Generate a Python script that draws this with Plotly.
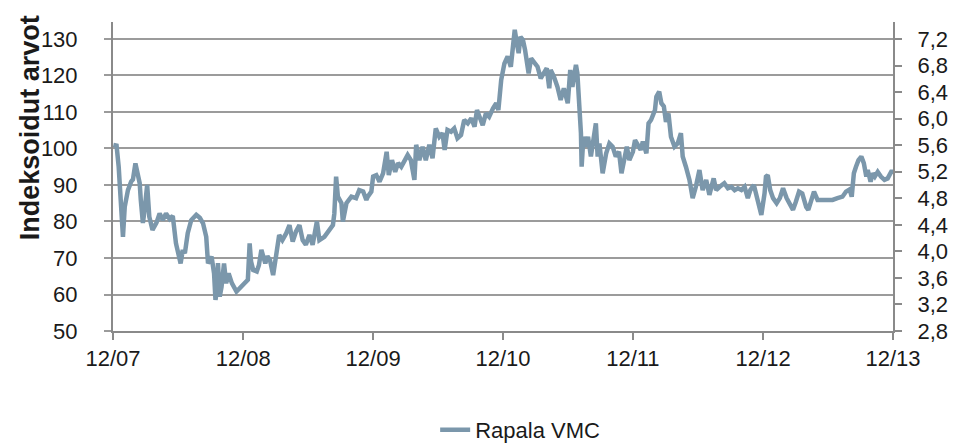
import plotly.graph_objects as go

# Rapala VMC, indexed (12/07 = 100)
dates = [
    "2007-12-02", "2007-12-06", "2007-12-11", "2007-12-17", "2007-12-22", "2007-12-26", "2007-12-29",
    "2008-01-03", "2008-01-12", "2008-01-21", "2008-01-26", "2008-02-02", "2008-02-05",
    "2008-02-09", "2008-02-14", "2008-02-17", "2008-02-23", "2008-02-28", "2008-03-06",
    "2008-03-12", "2008-03-21", "2008-04-01", "2008-04-10", "2008-04-19", "2008-04-28",
    "2008-05-08", "2008-05-17", "2008-05-26", "2008-06-02", "2008-06-08", "2008-06-14",
    "2008-06-20", "2008-06-28", "2008-07-08", "2008-07-22", "2008-08-01", "2008-08-10",
    "2008-08-19", "2008-08-24", "2008-09-03", "2008-09-10", "2008-09-14", "2008-09-19",
    "2008-09-21", "2008-09-26", "2008-10-01", "2008-10-08", "2008-10-14", "2008-10-21",
    "2008-10-30", "2008-11-12", "2008-11-26",
    "2008-12-05", "2008-12-09", "2008-12-14", "2008-12-19", "2008-12-23", "2008-12-29",
    "2009-01-08", "2009-01-14", "2009-01-21", "2009-02-01", "2009-02-07", "2009-02-14",
    "2009-02-23", "2009-03-03", "2009-03-12", "2009-03-21", "2009-04-01", "2009-04-10",
    "2009-04-19", "2009-04-28", "2009-05-08", "2009-05-17", "2009-05-26", "2009-06-05",
    "2009-06-14", "2009-06-26", "2009-07-03", "2009-07-17", "2009-08-01", "2009-08-10",
    "2009-08-14", "2009-08-19", "2009-08-24", "2009-09-03", "2009-09-07", "2009-09-17",
    "2009-10-01", "2009-10-14", "2009-10-23", "2009-11-03", "2009-11-12", "2009-11-16",
    "2009-11-26",
    "2009-12-01", "2009-12-10", "2009-12-19", "2009-12-29", "2010-01-08", "2010-01-14",
    "2010-01-23", "2010-02-01", "2010-02-09", "2010-02-18", "2010-02-27", "2010-03-08",
    "2010-03-17", "2010-03-27", "2010-04-01", "2010-04-10", "2010-04-19", "2010-04-28",
    "2010-05-08", "2010-05-17", "2010-05-26", "2010-06-05", "2010-06-14", "2010-06-20",
    "2010-06-28", "2010-07-08", "2010-07-17", "2010-07-26", "2010-08-05", "2010-08-14",
    "2010-08-24", "2010-09-03", "2010-09-12", "2010-09-19", "2010-09-26", "2010-10-05",
    "2010-10-14", "2010-10-23", "2010-11-03", "2010-11-12", "2010-11-18", "2010-11-26",
    "2010-12-05", "2010-12-14", "2010-12-23", "2010-12-29", "2011-01-03", "2011-01-09",
    "2011-01-14", "2011-01-19", "2011-01-26", "2011-02-01", "2011-02-05", "2011-02-11",
    "2011-02-18", "2011-02-27", "2011-03-08", "2011-03-17", "2011-03-27", "2011-04-03",
    "2011-04-10", "2011-04-14", "2011-04-23", "2011-05-03", "2011-05-12", "2011-05-21",
    "2011-06-01", "2011-06-08", "2011-06-14", "2011-06-24", "2011-06-28", "2011-07-03",
    "2011-07-08", "2011-07-10", "2011-07-15", "2011-07-22", "2011-07-28", "2011-08-05",
    "2011-08-13", "2011-08-19", "2011-08-24", "2011-08-29", "2011-09-07", "2011-09-17",
    "2011-09-26", "2011-10-05", "2011-10-14", "2011-10-23", "2011-10-30", "2011-11-07",
    "2011-11-14", "2011-11-21",
    "2011-12-01", "2011-12-07", "2011-12-14", "2011-12-23", "2011-12-29", "2012-01-08",
    "2012-01-14", "2012-01-21", "2012-02-01", "2012-02-05", "2012-02-13", "2012-02-19",
    "2012-02-26", "2012-03-03", "2012-03-10", "2012-03-17", "2012-03-27", "2012-04-05",
    "2012-04-14", "2012-04-19", "2012-04-28", "2012-05-08", "2012-05-17", "2012-05-26",
    "2012-06-05", "2012-06-14", "2012-06-24", "2012-07-03", "2012-07-15", "2012-07-22",
    "2012-08-01", "2012-08-14", "2012-08-24", "2012-09-03", "2012-09-12", "2012-09-21",
    "2012-10-01", "2012-10-10", "2012-10-19", "2012-10-26", "2012-11-05", "2012-11-12",
    "2012-11-19", "2012-11-26",
    "2012-12-05", "2012-12-09", "2012-12-14", "2012-12-21", "2012-12-29", "2013-01-08",
    "2013-01-17", "2013-01-26", "2013-02-05", "2013-02-14", "2013-02-23", "2013-03-03",
    "2013-03-12", "2013-03-21", "2013-04-01", "2013-04-07", "2013-04-14", "2013-04-23",
    "2013-05-03", "2013-05-17", "2013-06-01", "2013-06-14", "2013-06-28", "2013-07-12",
    "2013-07-22", "2013-08-01", "2013-08-07", "2013-08-13", "2013-08-19", "2013-08-26",
    "2013-09-03", "2013-09-10", "2013-09-17", "2013-09-21", "2013-09-29", "2013-10-05",
    "2013-10-11", "2013-10-19", "2013-10-28", "2013-11-07", "2013-11-16", "2013-11-26",
    "2013-12-01",
]

rapala_index = [
    101.0, 100.8, 100.8, 95.0, 86.0, 84.0, 75.8,
    84.0, 88.6, 90.9, 91.5, 95.9, 94.5,
    93.3, 90.5, 86.0, 79.6, 83.2, 90.0,
    81.3, 77.7, 79.6, 82.2, 80.4, 82.2,
    80.7, 81.5, 74.0, 71.3, 68.5, 72.2,
    71.3, 76.8, 80.4, 81.8, 81.0, 79.5,
    75.8, 68.5, 70.4, 65.8, 58.5, 62.0,
    68.6, 59.4, 62.1, 68.5, 63.1, 65.8,
    63.1, 60.8, 62.1,
    63.1, 63.5, 64.0, 74.0, 69.0, 66.7,
    66.3, 68.0, 72.2, 68.5, 70.5, 69.5,
    65.3, 70.4, 76.3, 74.9, 76.8, 79.0,
    74.5, 77.2, 79.0, 74.9, 73.6, 76.3,
    73.6, 80.0, 74.9, 75.8, 77.7, 79.0,
    82.2, 92.3, 86.8, 85.0, 80.0, 85.0,
    86.8, 86.4, 88.6, 88.2, 85.9, 86.8,
    88.2,
    92.3, 92.7, 90.9, 93.2, 99.1, 92.7,
    96.8, 93.6, 96.0, 95.0, 96.4, 98.2,
    96.8, 91.4, 101.0, 96.8, 100.5, 96.8,
    101.0, 97.3, 105.5, 103.2, 104.2, 99.6,
    105.1, 104.6, 105.5, 102.8, 103.7, 107.8,
    106.9, 108.3, 106.0, 110.5, 108.7, 106.4,
    109.6, 108.7, 111.0, 112.4, 110.5, 118.8,
    123.3, 125.2, 122.4, 129.7, 132.5, 128.8,
    126.1, 130.6, 129.7, 127.0, 124.2, 120.6,
    124.7, 123.3, 122.4, 119.2, 120.6, 122.0,
    116.5, 121.5, 119.7, 116.9, 113.3, 116.5,
    112.4, 121.5, 116.9, 122.9, 120.6, 113.3,
    104.2, 95.0, 103.2, 100.5, 103.2, 97.8,
    102.3, 106.9, 97.8, 101.4, 93.2, 98.7,
    101.4, 100.5, 97.8, 99.1, 93.2, 97.8,
    100.5, 96.8,
    99.1, 102.3, 101.0, 99.6, 101.9, 98.7,
    106.9, 107.8, 110.5, 114.2, 115.6, 112.4,
    111.5, 107.3, 109.6, 103.2, 100.5, 101.4,
    104.2, 97.8, 95.0, 91.4, 86.4, 89.5,
    94.1, 88.6, 91.4, 87.3, 91.8, 88.6,
    89.5, 90.5, 89.1, 89.5, 88.6, 89.1,
    88.6, 89.5, 86.4, 88.6, 90.0, 86.8,
    84.0, 81.8,
    87.7, 92.3, 92.7, 88.6, 86.4, 85.0,
    86.4, 89.1, 86.4, 84.5, 83.2, 85.4,
    88.2, 87.7, 84.0, 83.2, 85.9, 88.2,
    85.9, 85.9, 85.7, 85.9, 86.4, 86.8,
    88.2, 88.8, 86.8, 93.2, 95.0, 96.8,
    97.8, 96.0, 92.3, 94.1, 90.9, 93.2,
    92.3, 93.6, 92.3, 91.4, 91.8, 93.6,
    93.6,
]

x_tick_dates = ["2007-12-01", "2008-12-01", "2009-12-01", "2010-12-01",
                "2011-12-01", "2012-12-01", "2013-12-01"]
x_tick_labels = ["12/07", "12/08", "12/09", "12/10", "12/11", "12/12", "12/13"]

series_name = "Rapala VMC"
y_title = "Indeksoidut arvot"

LEFT_MIN, LEFT_TOP = 50, 134.65
RIGHT_MIN = 2.8
RIGHT_PER_INDEX = 0.055  # 80 index points <-> 4.4 EUR
RIGHT_TOP = RIGHT_MIN + (LEFT_TOP - LEFT_MIN) * RIGHT_PER_INDEX

FONT = "Liberation Sans, Arial, sans-serif"
GRID = "#9b9b9b"
AXIS = "#8a8a8a"
LINE = "#7b97ab"

fig = go.Figure()
fig.add_trace(go.Scatter(
    x=dates, y=rapala_index, mode="lines", name=series_name,
    line=dict(color=LINE, width=4.5),
))
fig.add_trace(go.Scatter(
    x=[dates[0]], y=[None], yaxis="y2", mode="lines",
    showlegend=False, hoverinfo="skip",
))

fig.update_layout(
    width=956, height=445,
    margin=dict(l=105, r=71, t=14, b=122),
    paper_bgcolor="white", plot_bgcolor="white",
    separators=", ",
    font=dict(family=FONT, size=22, color="#1a1a1a"),
    showlegend=True,
    legend=dict(orientation="h", x=0.522, xanchor="center",
                yref="container", y=0.052, yanchor="middle",
                font=dict(family=FONT, size=22, color="#1a1a1a")),
    xaxis=dict(
        type="date", range=["2007-12-01", "2013-12-01"],
        tickvals=x_tick_dates, ticktext=x_tick_labels,
        showgrid=False, showline=True, linecolor=AXIS, linewidth=2,
        ticks="outside", ticklen=7, tickcolor=AXIS, tickwidth=2,
        zeroline=False,
    ),
    yaxis=dict(
        range=[LEFT_MIN, LEFT_TOP], tick0=50, dtick=10,
        showgrid=True, gridcolor=GRID, gridwidth=1.5,
        showline=True, linecolor=AXIS, linewidth=2,
        ticks="outside", ticklen=7, tickcolor=GRID, tickwidth=1.5,
        ticklabelstandoff=22,
        zeroline=False,
    ),
    yaxis2=dict(
        overlaying="y", side="right",
        range=[RIGHT_MIN, RIGHT_TOP], tick0=2.8, dtick=0.4, tickformat=".1f",
        showgrid=False, showline=True, linecolor=AXIS, linewidth=2,
        ticks="outside", ticklen=7, tickcolor=AXIS, tickwidth=2,
        ticklabelstandoff=11,
        zeroline=False,
    ),
    annotations=[dict(
        text="<b>" + y_title + "</b>", textangle=-90,
        xref="paper", yref="paper", x=-0.106, y=0.657,
        xanchor="center", yanchor="middle", showarrow=False,
        font=dict(family=FONT, size=27, color="#1a1a1a"),
    )],
)

fig.write_html("out.html")
